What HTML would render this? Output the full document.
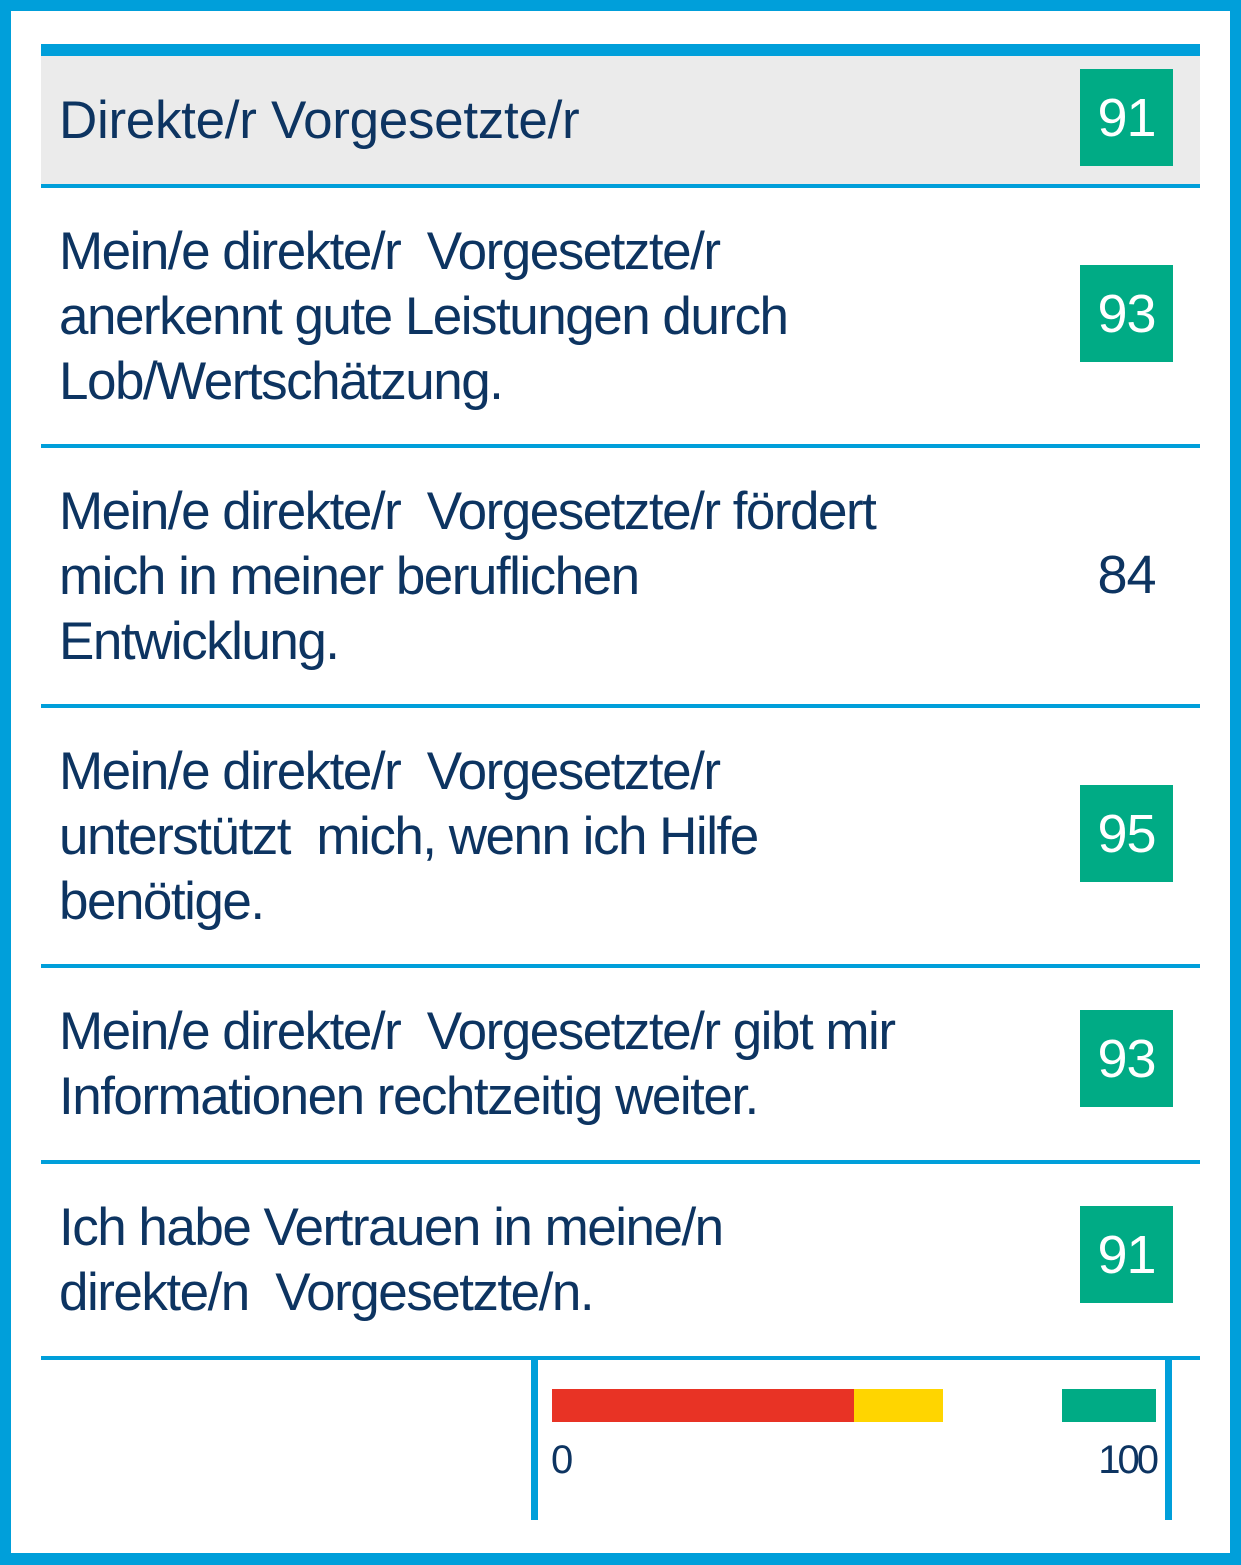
<!DOCTYPE html>
<html><head><meta charset="utf-8"><style>
*{margin:0;padding:0;box-sizing:border-box}
body{width:1241px;height:1565px;background:#fff;position:relative;overflow:hidden;font-family:"Liberation Sans",sans-serif;color:#0d3461}
.frame{position:absolute;left:0;top:0;width:1241px;height:1565px;border:solid #009fda;border-width:11px 11px 12px 11px}
.row{position:absolute;left:41px;width:1159px;display:flex;align-items:center;border-bottom:4px solid #009fda}
.t{padding-left:18px;font-size:53px;letter-spacing:-1.5px;line-height:65px;white-space:nowrap;flex:1}
.v{position:absolute;left:1039px;width:93px;height:97px;display:flex;align-items:center;justify-content:center;font-size:54px;letter-spacing:-1px}
.g{background:#00ab85;color:#fff}
.p{color:#0d3461}
.abs{position:absolute}
</style></head><body>
<div class="frame"></div>
<div class="abs" style="left:41px;top:44px;width:1159px;height:12px;background:#009fda"></div>
<div class="row" style="top:56px;height:132px;background:#ebebeb"><div class="t" style="letter-spacing:-0.3px">Direkte/r Vorgesetzte/r</div><div class="v g" style="top:13px">91</div></div>
<div class="row" style="top:188px;height:260px"><div class="t">Mein/e direkte/r&nbsp; Vorgesetzte/r<br>anerkennt gute Leistungen durch<br>Lob/Wertschätzung.</div><div class="v g" style="top:77px">93</div></div>
<div class="row" style="top:448px;height:260px"><div class="t">Mein/e direkte/r&nbsp; Vorgesetzte/r fördert<br>mich in meiner beruflichen<br>Entwicklung.</div><div class="v p" style="top:78px">84</div></div>
<div class="row" style="top:708px;height:260px"><div class="t">Mein/e direkte/r&nbsp; Vorgesetzte/r<br>unterstützt&nbsp; mich, wenn ich Hilfe<br>benötige.</div><div class="v g" style="top:77px">95</div></div>
<div class="row" style="top:968px;height:196px"><div class="t">Mein/e direkte/r&nbsp; Vorgesetzte/r gibt mir<br>Informationen rechtzeitig weiter.</div><div class="v g" style="top:42px">93</div></div>
<div class="row" style="top:1164px;height:196px"><div class="t">Ich habe Vertrauen in meine/n<br>direkte/n&nbsp; Vorgesetzte/n.</div><div class="v g" style="top:42px">91</div></div>
<div class="abs" style="left:531px;top:1358px;width:7px;height:162px;background:#009fda"></div>
<div class="abs" style="left:1165px;top:1358px;width:7px;height:162px;background:#009fda"></div>
<div class="abs" style="left:552px;top:1389px;width:302px;height:33px;background:#e83325"></div>
<div class="abs" style="left:854px;top:1389px;width:89px;height:33px;background:#ffd500"></div>
<div class="abs" style="left:1062px;top:1389px;width:94px;height:33px;background:#00ab85"></div>
<div class="abs" style="left:551px;top:1438px;font-size:40px;letter-spacing:-2px">0</div>
<div class="abs" style="left:1060px;top:1438px;width:96px;text-align:right;font-size:40px;letter-spacing:-3px">100</div>
</body></html>
